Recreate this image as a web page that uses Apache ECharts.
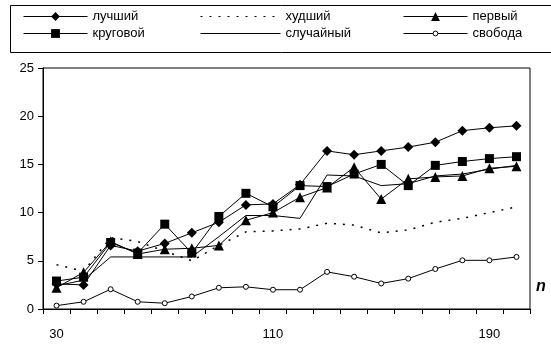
<!DOCTYPE html>
<html>
<head>
<meta charset="utf-8">
<script src="https://cdn.jsdelivr.net/npm/echarts@6/dist/echarts.min.js"></script>
<style>
  html, body { margin: 0; padding: 0; background: #fff; }
  #chart { width: 551px; height: 346px; }
</style>
</head>
<body>
<div id="chart"></div>
<script>
// n values on the horizontal axis
const categories = [30, 40, 50, 60, 70, 80, 90, 100, 110, 120, 130, 140, 150, 160, 170, 180, 190, 200];

// series values
const bestVals   = [2.6, 2.5, 6.6, 6.0, 6.8, 7.9, 9.0, 10.8, 10.9, 12.9, 16.4, 16.0, 16.4, 16.8, 17.3, 18.5, 18.8, 19.0];
const worstVals  = [4.6, 3.9, 7.4, 7.0, 6.0, 5.0, 6.6, 8.0, 8.1, 8.3, 8.9, 8.7, 7.9, 8.2, 9.0, 9.4, 10.0, 10.6];
const firstVals  = [2.2, 3.8, 7.0, 5.7, 6.2, 6.3, 6.6, 9.2, 10.0, 11.6, 12.6, 14.7, 11.4, 13.5, 13.7, 13.8, 14.6, 14.8];
const roundVals  = [2.9, 3.3, 6.9, 5.8, 8.8, 5.8, 9.6, 12.0, 10.6, 12.8, 12.7, 14.0, 15.0, 12.8, 14.9, 15.3, 15.6, 15.8];
const randomVals = [2.4, 3.0, 5.4, 5.4, 5.4, 5.4, 7.5, 9.7, 9.7, 9.4, 13.9, 13.8, 12.8, 13.0, 13.8, 14.0, 14.5, 14.9];
const freeVals   = [0.35, 0.75, 2.05, 0.75, 0.6, 1.3, 2.2, 2.3, 2.0, 2.0, 3.85, 3.35, 2.65, 3.15, 4.15, 5.05, 5.05, 5.4];

const seriesNames = ['лучший', 'худший', 'первый', 'круговой', 'случайный', 'свобода'];
const FONT = '"Liberation Sans", Arial, sans-serif';

const chart = echarts.init(document.getElementById('chart'), null, { renderer: 'canvas' });

function lineSeries(name, data, symbol, size, extra) {
  return Object.assign({
    name: name,
    type: 'line',
    data: data,
    symbol: symbol,
    symbolSize: size,
    showAllSymbol: true,
    animation: false,
    color: '#000',
    lineStyle: { color: '#000', width: 1 },
    itemStyle: { color: '#000', borderColor: '#000', borderWidth: 0 }
  }, extra || {});
}

// legend laid out as two rows of three, each entry placed on its own
const legendCols = [ { left: 23, w: 64 }, { left: 200, w: 80 }, { left: 403, w: 64 } ];
const legendRows = [ 10, 27 ];
const legends = seriesNames.map(function (name, i) {
  const col = legendCols[i % 3];
  const rowTop = legendRows[Math.floor(i / 3)];
  const noMarker = (name === 'худший' || name === 'случайный');
  const isFree = (name === 'свобода');
  return {
    data: [name],
    left: col.left,
    top: rowTop,
    padding: 0,
    itemWidth: col.w,
    itemHeight: isFree ? 6 : 11,
    selectedMode: false,
    textStyle: { fontFamily: FONT, fontSize: 13, color: '#000' },
    itemStyle: noMarker ? { opacity: 0 } : (isFree ? { borderWidth: 1, borderColor: '#000', color: '#fff' } : {}),
    lineStyle: { width: 1 }
  };
});

chart.setOption({
  backgroundColor: '#fff',
  animation: false,
  textStyle: { fontFamily: FONT },
  grid: {
    left: 43, right: 21, top: 68, bottom: 37,
    show: true, borderColor: '#000', borderWidth: 1, backgroundColor: 'transparent'
  },
  legend: legends,
  graphic: [{
    type: 'rect',
    shape: { x: 10.5, y: 5.5, width: 560, height: 47 },
    style: { fill: 'none', stroke: '#000', lineWidth: 1 },
    z: -1
  }],
  xAxis: {
    type: 'category',
    data: categories,
    boundaryGap: true,
    name: 'n',
    nameLocation: 'end',
    nameGap: 6,
    nameTextStyle: {
      fontFamily: FONT, fontSize: 16, fontWeight: 'bold', fontStyle: 'italic',
      color: '#000', verticalAlign: 'bottom', padding: [0, 0, 14, 0]
    },
    axisLine: { show: true, lineStyle: { color: '#000', width: 1 } },
    axisTick: { show: true, interval: 0, length: 5, inside: false, lineStyle: { color: '#000' } },
    axisLabel: { interval: 7, color: '#000', fontSize: 13, fontFamily: FONT, margin: 19 },
    splitLine: { show: false }
  },
  yAxis: {
    type: 'value',
    min: 0, max: 25, interval: 5,
    axisLine: { show: true, lineStyle: { color: '#000', width: 1 } },
    axisTick: { show: true, length: 5, lineStyle: { color: '#000' } },
    axisLabel: { color: '#000', fontSize: 13, fontFamily: FONT, margin: 9 },
    splitLine: { show: false }
  },
  series: [
    lineSeries('лучший', bestVals, 'diamond', 10),
    lineSeries('худший', worstVals, 'none', 0, { lineStyle: { color: '#000', width: 1.5, type: [2, 7] } }),
    lineSeries('первый', firstVals, 'triangle', 10),
    lineSeries('круговой', roundVals, 'rect', 9),
    lineSeries('случайный', randomVals, 'none', 0),
    lineSeries('свобода', freeVals, 'circle', 5, { itemStyle: { color: '#fff', borderColor: '#000', borderWidth: 1 } })
  ]
});
</script>
</body>
</html>
